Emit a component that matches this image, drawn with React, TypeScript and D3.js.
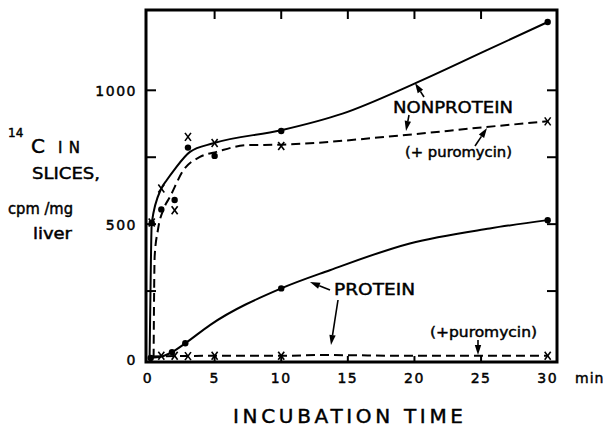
import React from "react";
import * as d3 from "d3";

// ---- data (time in min, value in cpm/mg liver) ----
// markers
const nonproteinDots: [number, number][] = [
  [0.28, 504], [1, 555], [2, 590], [3, 786], [5, 755], [10, 848], [30, 1255],
];
const nonproteinPuroCrosses: [number, number][] = [
  [0.28, 506], [1, 633], [2, 552], [3, 826], [5, 803], [10, 792], [30, 884],
];
const proteinDots: [number, number][] = [
  [0.2, 0], [1.8, 22], [2.8, 55], [10, 260], [30, 515],
];
const proteinPuroCrosses: [number, number][] = [
  [1, 8], [2, 8], [3, 7], [5, 8], [10, 8], [30, 8],
];
// fitted curves
const nonproteinCurve: [number, number][] = [
  [0.12, 0], [0.2, 300], [0.28, 504], [1, 633], [1.4, 664], [2, 705], [3.15, 770],
  [4.9, 802], [10, 851], [14.6, 913], [20, 1025], [25.4, 1149], [30, 1255],
];
const nonproteinPuroCurve: [number, number][] = [
  [0.42, 0], [0.5, 380], [0.75, 480], [1.2, 560], [1.65, 602], [2.65, 701],
  [3.9, 751], [5.15, 770], [7.4, 795], [10, 797], [19.1, 832], [25.4, 863], [30, 884],
];
const proteinCurve: [number, number][] = [
  [0.2, 0], [1, 5], [1.8, 22], [2.8, 55], [4.65, 123], [10, 260], [13.65, 328],
  [19.65, 428], [25.65, 484], [30, 515],
];
const proteinPuroCurve: [number, number][] = [
  [0.3, 6], [5, 8], [10, 8], [13, 11], [20, 8], [30, 8],
];

const xTicks = [0, 5, 10, 15, 20, 25, 30];
const yTickLabels = [0, 500, 1000];
const yMinorTicks = [250, 500, 750, 1000];

const FONT = "'DejaVu Sans', sans-serif";
const TS = { stroke: "#000", strokeWidth: 0.45 };

export default function App() {
  const x = d3.scaleLinear().domain([-0.15, 30.7]).range([146, 557]);
  const y = d3.scaleLinear().domain([-15, 1300]).range([362, 10]);

  const line = d3
    .line<[number, number]>()
    .x((d) => x(d[0]))
    .y((d) => y(d[1]))
    .curve(d3.curveMonotoneX);

  const cross = (cx: number, cy: number, k: string) => (
    <g key={k} stroke="#000" strokeWidth={1.6}>
      <line x1={cx - 3} y1={cy - 4} x2={cx + 3} y2={cy + 4} />
      <line x1={cx + 3} y1={cy - 4} x2={cx - 3} y2={cy + 4} />
    </g>
  );

  // arrow: from (x1,y1) to tip (x2,y2)
  const arrow = (x1: number, y1: number, x2: number, y2: number, k: string) => {
    const ang = Math.atan2(y2 - y1, x2 - x1);
    const L = 10, W = 3.2;
    const bx = x2 - L * Math.cos(ang), by = y2 - L * Math.sin(ang);
    const px = -Math.sin(ang) * W, py = Math.cos(ang) * W;
    return (
      <g key={k}>
        <line x1={x1} y1={y1} x2={bx} y2={by} stroke="#000" strokeWidth={1.6} />
        <polygon points={`${x2},${y2} ${bx + px},${by + py} ${bx - px},${by - py}`} fill="#000" />
      </g>
    );
  };

  const [x0, x1] = x.range();
  const [yb, yt] = y.range();

  return (
    <svg width={603} height={431} style={{ position: "absolute", left: 0, top: 0, background: "#fff" }}>
      <rect x={0} y={0} width={603} height={431} fill="#fff" />
      {/* curves */}
      <path d={line(nonproteinCurve) || ""} fill="none" stroke="#000" strokeWidth={2} />
      <path d={line(nonproteinPuroCurve) || ""} fill="none" stroke="#000" strokeWidth={2} strokeDasharray="9,5" />
      <path d={line(proteinCurve) || ""} fill="none" stroke="#000" strokeWidth={2} />
      <path d={line(proteinPuroCurve) || ""} fill="none" stroke="#000" strokeWidth={2} strokeDasharray="9,5" />

      {/* markers */}
      {nonproteinDots.map((d, i) => (
        <circle key={"nd" + i} cx={x(d[0])} cy={y(d[1])} r={3.2} fill="#000" />
      ))}
      {proteinDots.map((d, i) => (
        <circle key={"pd" + i} cx={x(d[0])} cy={y(d[1])} r={3.2} fill="#000" />
      ))}
      {nonproteinPuroCrosses.map((d, i) => cross(x(d[0]), y(d[1]), "nc" + i))}
      {proteinPuroCrosses.map((d, i) => cross(x(d[0]), y(d[1]), "pc" + i))}

      {/* frame */}
      <rect x={x0} y={yt} width={x1 - x0} height={yb - yt} fill="none" stroke="#000" strokeWidth={3} />
      {/* ticks */}
      {xTicks.slice(1, 6).map((t) => (
        <g key={"xt" + t}>
          <line x1={x(t)} x2={x(t)} y1={yt} y2={yt + 9} stroke="#000" strokeWidth={2} />
          <line x1={x(t)} x2={x(t)} y1={yb} y2={yb - 6} stroke="#000" strokeWidth={2} />
        </g>
      ))}
      {yMinorTicks.map((v) => (
        <g key={"yt" + v}>
          <line x1={x0} x2={x0 + 10} y1={y(v)} y2={y(v)} stroke="#000" strokeWidth={2} />
          <line x1={x1} x2={x1 - 10} y1={y(v)} y2={y(v)} stroke="#000" strokeWidth={2} />
        </g>
      ))}

      <g fontFamily={FONT} {...TS}>
        {/* tick labels */}
        {yTickLabels.map((v) => (
          <text key={"yl" + v} x={137} y={y(v) + (v === 0 ? 7 : 6)} textAnchor="end" fontSize={14} letterSpacing={1.5}>
            {v}
          </text>
        ))}
        {xTicks.map((t) => (
          <text key={"xl" + t} x={x(t)} y={383} textAnchor="middle" fontSize={14} letterSpacing={1.5}>
            {t}
          </text>
        ))}
        <text x={575} y={383} fontSize={14} letterSpacing={1}>min</text>

        {/* axis titles */}
        <text x={233} y={423} fontSize={20} textLength={230} lengthAdjust="spacing">INCUBATION TIME</text>
        <text x={8} y={137} fontSize={12}>14</text>
        <text x={31} y={153} fontSize={20}>C</text>
        <text x={58} y={153} fontSize={15} textLength={22} lengthAdjust="spacing">IN</text>
        <text x={32} y={179} fontSize={16} textLength={68} lengthAdjust="spacingAndGlyphs">SLICES,</text>
        <text x={8} y={214} fontSize={15} textLength={65} lengthAdjust="spacingAndGlyphs">cpm /mg</text>
        <text x={33} y={239} fontSize={15} textLength={39} lengthAdjust="spacingAndGlyphs">liver</text>

        {/* annotations */}
        <text x={393} y={113} fontSize={16} textLength={120} lengthAdjust="spacingAndGlyphs">NONPROTEIN</text>
        <text x={405} y={157} fontSize={14} textLength={107} lengthAdjust="spacingAndGlyphs">(+ puromycin)</text>
        <text x={334} y={295} fontSize={16} textLength={81} lengthAdjust="spacingAndGlyphs">PROTEIN</text>
        <text x={430} y={337} fontSize={14} textLength={107} lengthAdjust="spacingAndGlyphs">(+puromycin)</text>
      </g>
      {arrow(424, 97, 415, 83, "a1")}
      {arrow(409, 115, 406, 131, "a2")}
      {arrow(475, 146, 487, 128, "a3")}
      {arrow(330, 290, 310, 282, "a4")}
      {arrow(338, 300, 331, 345, "a5")}
      {arrow(478, 340, 478, 355, "a6")}
    </svg>
  );
}
